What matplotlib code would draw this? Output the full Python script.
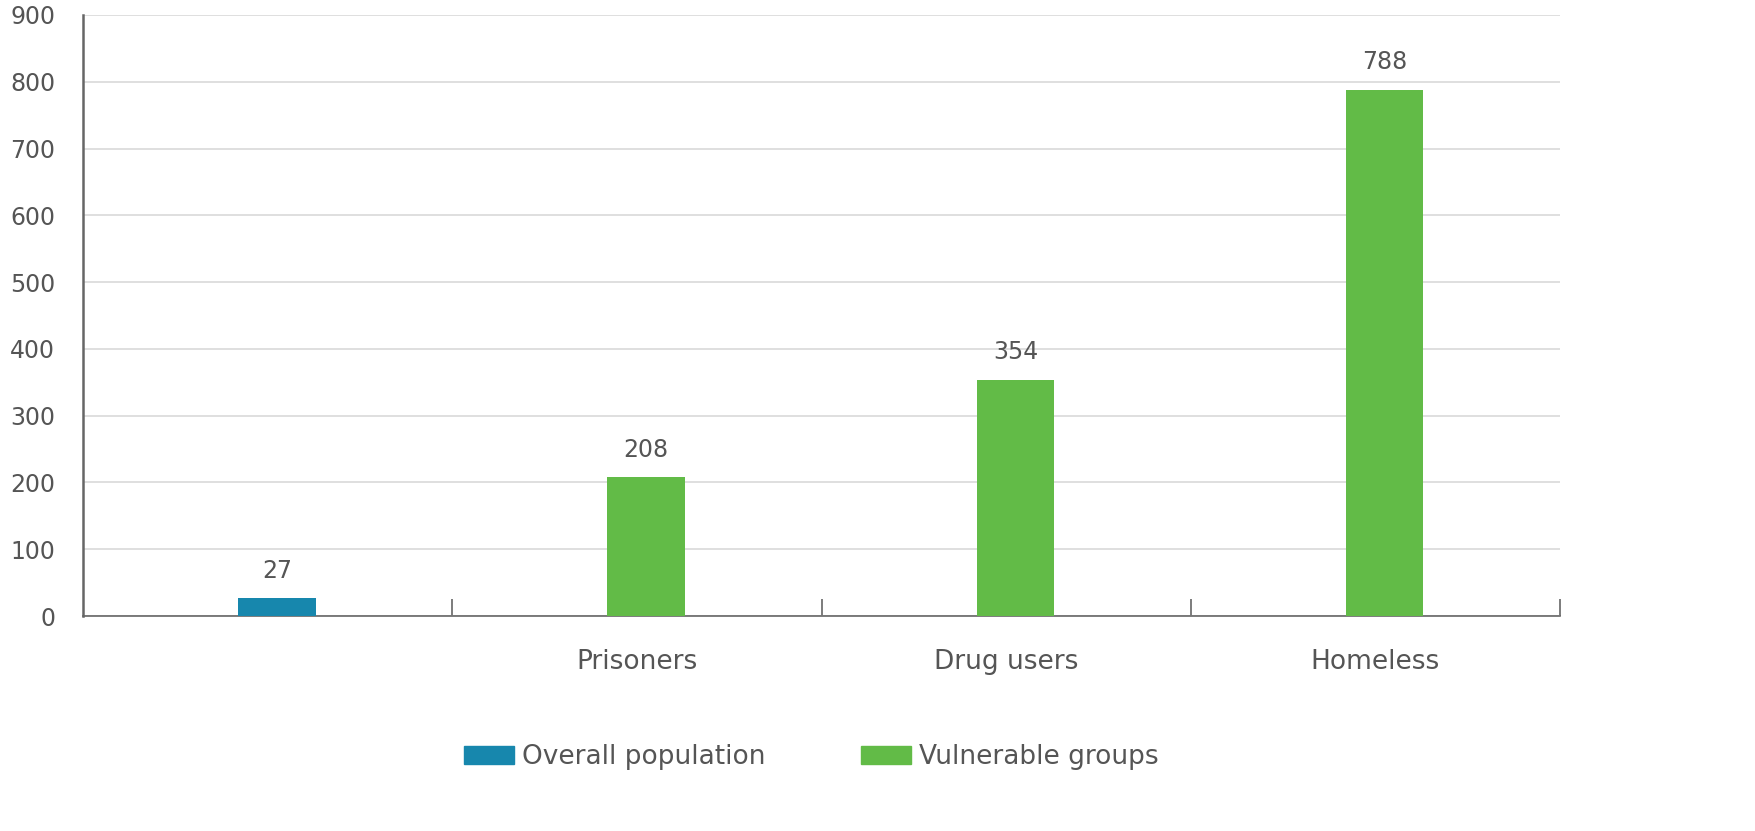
import numpy as np
import matplotlib.pyplot as plt
from matplotlib.patches import Patch

plt.rcParams['font.family'] = ['Liberation Sans Narrow', 'DejaVu Sans']

categories = ['', 'Prisoners', 'Drug users', 'Homeless']
values = [27, 208, 354, 788]
groups = ['Overall population', 'Vulnerable groups', 'Vulnerable groups', 'Vulnerable groups']
yticks = [0, 100, 200, 300, 400, 500, 600, 700, 800, 900]

blue = '#1787ad'
green = '#62bb47'
txt = '#555555'
colors = [blue if g == 'Overall population' else green for g in groups]

fig = plt.figure(figsize=(17.56, 8.31), dpi=100)
ax = fig.add_axes([0.0473, 0.2587, 0.8411, 0.7233])

x = np.arange(len(categories))
ax.bar(x + 0.025, values, width=0.21, color=colors, zorder=3)
for xi, v in zip(x, values):
    ax.annotate(str(v), (xi + 0.025, v), xytext=(0, 11), textcoords='offset points',
                ha='center', va='bottom', fontsize=17, color=txt)

ax.set_xlim(-0.5, 3.5)
ax.set_ylim(0, 900)
ax.set_yticks(yticks)
ax.set_yticklabels([str(t) for t in yticks], fontsize=17, color=txt)
ax.yaxis.grid(True, color='#d9d9d9', linewidth=1.2, zorder=0)
ax.tick_params(axis='y', length=0, pad=20)

ax.set_xticks(x)
ax.set_xticklabels(categories, fontsize=19, color=txt)
ax.tick_params(axis='x', which='major', length=0, pad=24)
ax.set_xticks(np.arange(0.5, 4, 1), minor=True)
ax.tick_params(axis='x', which='minor', direction='in', length=12, width=1.2, color='#666666')

for s in ['top', 'right']:
    ax.spines[s].set_visible(False)
ax.spines['left'].set_color('#666666')
ax.spines['left'].set_linewidth(1.8)
ax.spines['bottom'].set_color('#666666')
ax.spines['bottom'].set_linewidth(1.2)

handles = [Patch(color=blue), Patch(color=green)]
fig.legend(handles, ['Overall population', 'Vulnerable groups'], loc='center',
           bbox_to_anchor=(0.462, 0.089), ncol=2, frameon=False, fontsize=19,
           handlelength=1.9, handleheight=0.7, columnspacing=3.6, handletextpad=0.3,
           labelcolor=txt)

fig.savefig('out.png', dpi=100)
